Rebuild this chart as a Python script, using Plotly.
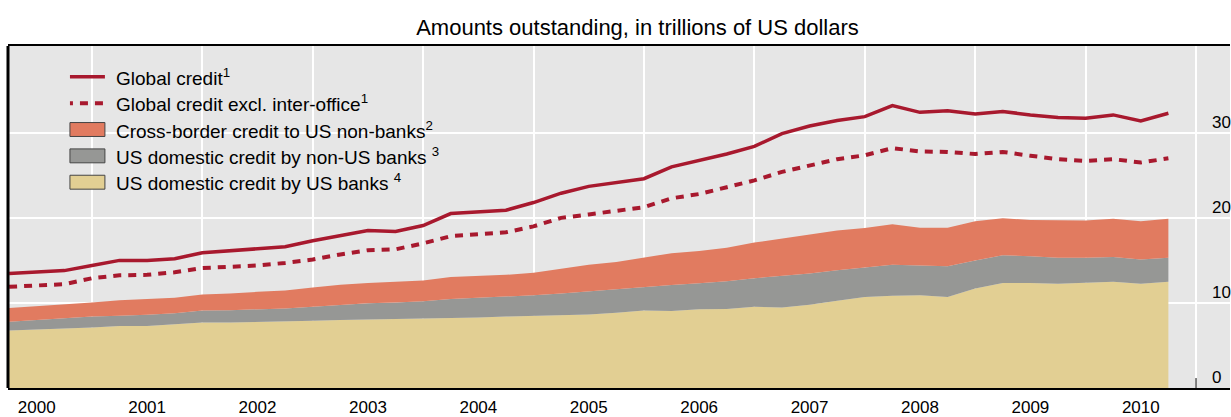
import plotly.graph_objects as go

# ---------------- data (trillions of US dollars, quarterly) ----------------
quarters = [f"{y}-Q{q}" for y in range(2000, 2011) for q in range(1, 5)][:43]

global_credit = [13.45, 13.6, 13.8, 14.4, 15.0, 15.0, 15.2, 15.9, 16.1, 16.4, 16.6,
                 17.3, 17.9, 18.5, 18.4, 19.1, 20.5, 20.7, 20.9, 21.8, 22.9, 23.7,
                 24.2, 24.6, 26.0, 26.7, 27.5, 28.4, 29.9, 30.8, 31.45, 31.9, 33.2,
                 32.4, 32.6, 32.2, 32.5, 32.1, 31.8, 31.7, 32.1, 31.4, 32.3]

global_excl_interoffice = [11.9, 12.0, 12.2, 12.9, 13.25, 13.3, 13.6, 14.1, 14.2, 14.4,
                           14.7, 15.1, 15.7, 16.2, 16.3, 17.0, 17.85, 18.05, 18.3, 19.0,
                           20.0, 20.4, 20.85, 21.25, 22.3, 22.8, 23.6, 24.4, 25.4, 26.2,
                           26.9, 27.35, 28.2, 27.8, 27.75, 27.5, 27.75, 27.3, 26.9, 26.7,
                           26.9, 26.5, 27.0]

cross_border_us_nonbanks = [1.6, 1.6, 1.6, 1.65, 1.8, 1.85, 1.8, 1.9, 1.95, 2.05, 2.1,
                            2.25, 2.4, 2.4, 2.45, 2.45, 2.6, 2.6, 2.6, 2.65, 2.9, 3.15,
                            3.2, 3.4, 3.75, 3.8, 3.95, 4.2, 4.35, 4.55, 4.65, 4.65, 4.75,
                            4.45, 4.55, 4.6, 4.35, 4.25, 4.4, 4.4, 4.5, 4.5, 4.6]

us_domestic_by_non_us_banks = [1.05, 1.1, 1.2, 1.3, 1.2, 1.3, 1.3, 1.4, 1.45, 1.5, 1.55,
                               1.65, 1.75, 1.9, 1.95, 2.0, 2.2, 2.3, 2.3, 2.4, 2.5, 2.7,
                               2.75, 2.8, 3.05, 3.05, 3.25, 3.35, 3.75, 3.65, 3.6, 3.45,
                               3.65, 3.5, 3.6, 3.3, 3.25, 3.15, 3.05, 2.95, 2.9, 2.85, 2.8]

us_domestic_by_us_banks = [6.75, 6.9, 7.0, 7.1, 7.3, 7.3, 7.5, 7.7, 7.7, 7.75, 7.8,
                           7.9, 8.0, 8.05, 8.1, 8.2, 8.25, 8.3, 8.4, 8.5, 8.6, 8.65,
                           8.85, 9.1, 9.05, 9.25, 9.3, 9.55, 9.45, 9.8, 10.25, 10.7,
                           10.85, 10.9, 10.7, 11.7, 12.35, 12.35, 12.25, 12.35, 12.5,
                           12.25, 12.5]

year_labels = [str(y) for y in range(2000, 2011)]
y_tick_values = [0, 10, 20, 30]

title_text = "Amounts outstanding, in trillions of US dollars"
legend_names = [
    "Global credit<sup>1</sup>",
    "Global credit excl. inter-office<sup>1</sup>",
    "Cross-border credit to US non-banks<sup>2</sup>",
    "US domestic credit by non-US banks <sup>3</sup>",
    "US domestic credit by US banks <sup>4</sup>",
]

# ---------------- styling ----------------
RED = "#A8192E"
ORANGE = "#E17B60"
GREY = "#969795"
TAN = "#E2CF93"
BG = "#E6E6E6"
FONT = "Liberation Sans, Arial, sans-serif"

# quarter-end positions on a numeric year axis
x = [int(s[:4]) + int(s[-1]) / 4 for s in quarters]

fig = go.Figure()

for vals, col, name in [
    (us_domestic_by_us_banks, TAN, legend_names[4]),
    (us_domestic_by_non_us_banks, GREY, legend_names[3]),
    (cross_border_us_nonbanks, ORANGE, legend_names[2]),
]:
    fig.add_trace(go.Scatter(
        x=x, y=vals, name=name, mode="lines", stackgroup="one",
        line=dict(width=0, color=col), fillcolor=col, showlegend=False,
        hoverinfo="skip",
    ))

fig.add_trace(go.Scatter(
    x=x, y=global_excl_interoffice, name=legend_names[1], mode="lines",
    line=dict(color=RED, width=4, dash="8px,7px"), showlegend=False,
))
fig.add_trace(go.Scatter(
    x=x, y=global_credit, name=legend_names[0], mode="lines",
    line=dict(color=RED, width=3.5), showlegend=False,
))

# ---------------- geometry (pixels) ----------------
W, H = 1231, 417
ML, MR, MT, MB = 8, 0, 46, 27
PW, PH = W - ML - MR, H - MT - MB


def px_x(p):
    return (p - ML) / PW


def px_y(p):
    return (H - MB - p) / PH


# ---------------- custom legend ----------------
shapes = []
annotations = []
row_y = [77, 103.5, 130, 156.5, 183]
kinds = ["line", "dash", "box", "box", "box"]
colors = [RED, RED, ORANGE, GREY, TAN]
for kind, col, ry, name in zip(kinds, colors, row_y, legend_names):
    if kind == "line":
        shapes.append(dict(type="line", xref="paper", yref="paper",
                           x0=px_x(70), x1=px_x(105), y0=px_y(ry), y1=px_y(ry),
                           line=dict(color=col, width=3.5)))
    elif kind == "dash":
        shapes.append(dict(type="line", xref="paper", yref="paper",
                           x0=px_x(70), x1=px_x(106), y0=px_y(ry), y1=px_y(ry),
                           line=dict(color=col, width=4, dash="3px,7px,8px,7px,8px,7px")))
    else:
        shapes.append(dict(type="rect", xref="paper", yref="paper",
                           x0=px_x(70), x1=px_x(105), y0=px_y(ry - 7), y1=px_y(ry + 7),
                           fillcolor=col, line=dict(color="#444444", width=1)))
    annotations.append(dict(text=name, xref="paper", yref="paper",
                            x=px_x(114), y=px_y(ry), xanchor="left", yanchor="middle",
                            showarrow=False, font=dict(family=FONT, size=19, color="#000000")))

# left border of the panel
shapes.append(dict(type="line", xref="paper", yref="paper", x0=0, x1=0, y0=0, y1=1,
                   line=dict(color="#000000", width=3)))
# small axis stub at the right-hand scale
shapes.append(dict(type="line", xref="paper", yref="paper",
                   x0=px_x(1197), x1=px_x(1197), y0=0, y1=px_y(380),
                   line=dict(color="#000000", width=1)))

fig.update_layout(
    width=W, height=H, autosize=False,
    margin=dict(l=ML, r=MR, t=MT, b=MB, pad=0),
    paper_bgcolor="#FFFFFF", plot_bgcolor=BG,
    font=dict(family=FONT, size=17, color="#000000"),
    title=dict(text=title_text, x=637.5 / W, xanchor="center", xref="container",
               y=1 - 27 / H, yanchor="middle", yref="container",
               font=dict(family=FONT, size=22, color="#000000")),
    showlegend=False,
    shapes=shapes,
    annotations=annotations,
    xaxis=dict(
        range=[2000.24, 2011.308],
        tickmode="array",
        tickvals=[int(v) + 0.5 for v in year_labels],
        ticktext=year_labels,
        ticks="", showgrid=False, zeroline=False,
        showline=True, linecolor="#000000", linewidth=2, mirror=True,
        ticklabelstandoff=3,
        tickfont=dict(family=FONT, size=17, color="#000000"),
        minor=dict(tick0=2000, dtick=1, showgrid=True, gridcolor="#FFFFFF",
                   gridwidth=1.5, ticks=""),
        fixedrange=True,
    ),
    yaxis=dict(
        range=[0, 40.2],
        tickmode="array", tickvals=y_tick_values,
        side="right", anchor="free", position=px_x(1197),
        ticks="", showline=False, zeroline=False,
        showgrid=True, gridcolor="#FFFFFF", gridwidth=1.5,
        ticklabelstandoff=15, ticklabelshift=-11,
        tickfont=dict(family=FONT, size=17, color="#000000"),
        fixedrange=True,
    ),
)

fig.write_html(
    "out.html",
    config={"displayModeBar": False},
    post_script="document.documentElement.style.margin='0';"
                "document.body.style.margin='0';"
                "document.body.style.overflow='hidden';",
)
